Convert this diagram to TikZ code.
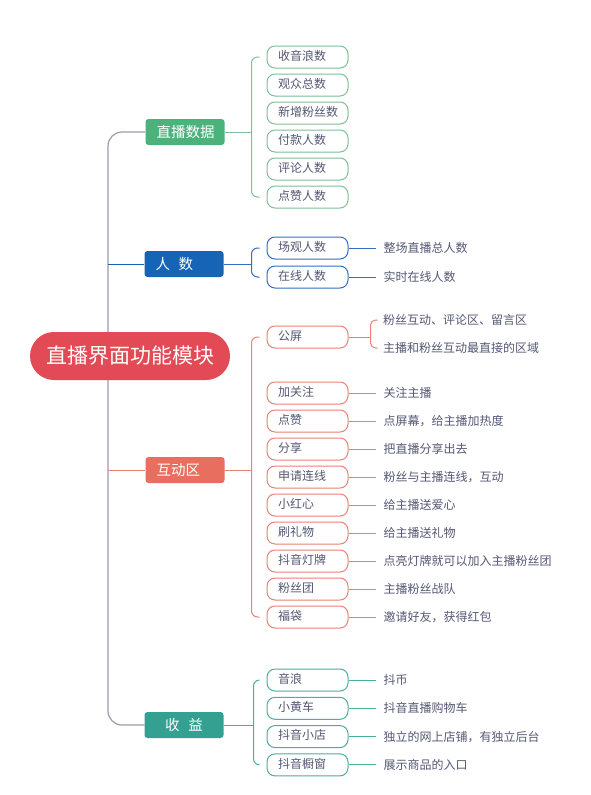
\documentclass[tikz,border=0pt]{standalone}
\usepackage{fontspec}
\setmainfont{Noto Sans CJK SC}
\usetikzlibrary{positioning,calc}
\pgfdeclarelayer{background}
\pgfsetlayers{background,main}
\definecolor{rootred}{RGB}{226,74,85}
\definecolor{dgreen}{RGB}{76,178,124}
\definecolor{lgreen}{RGB}{125,192,152}
\definecolor{dblue}{RGB}{22,100,182}
\definecolor{lblue}{RGB}{52,110,190}
\definecolor{dred}{RGB}{232,110,96}
\definecolor{lred}{RGB}{236,128,118}
\definecolor{dteal}{RGB}{52,160,145}
\definecolor{lteal}{RGB}{75,175,155}
\definecolor{trunkgray}{RGB}{155,155,172}
\definecolor{txtgray}{RGB}{84,88,115}

\begin{document}
\begin{tikzpicture}[x=1pt,y=1pt,node distance=5pt,
    rootbox/.style={fill=rootred,text=white,rounded corners=24pt,minimum width=200pt,minimum height=48pt,font=\fontsize{21}{24}\selectfont},
    branch/.style={fill=#1,text=white,rounded corners=3pt,minimum height=26pt,inner xsep=11pt,text width=57pt,align=left,font=\fontsize{14.5}{17}\selectfont},
    leaf/.style={draw=#1,line width=1pt,fill=white,rounded corners=8pt,minimum height=22pt,inner ysep=3pt,text height=9.5pt,text depth=3pt,inner xsep=11pt,text width=59pt,align=left,text=txtgray,font=\fontsize{12}{14}\selectfont},
    desc/.style={inner sep=0pt,anchor=west,text=txtgray,font=\fontsize{12}{14}\selectfont},
    link/.style={draw=#1,line width=1pt},
    trunk/.style={draw=trunkgray,line width=1.2pt}]
\useasboundingbox (0,0) rectangle (590,-795);
%
   \node[rootbox]        (R)  at (130,-356) {直播界面功能模块};
   \coordinate           (tk) at (108,-356);
   \node[branch=dgreen]  (DA) at (185,-132) {直播数据};
   \node[branch=dblue]   (DB) at (184,-264) {人\hspace{0.6em}数};
   \node[branch=dred]    (DC) at (185,-470) {互动区};
   \node[branch=dteal,align=center] (DE) at (184,-725) {收\hspace{0.6em}益};
%
   \node[leaf=lgreen]    (A1) at (307.5,-57) {收音浪数};
   \node[leaf=lgreen]    (A2) [below=of A1] {观众总数};
   \node[leaf=lgreen]    (A3) [below=of A2] {新增粉丝数};
   \node[leaf=lgreen]    (A4) [below=of A3] {付款人数};
   \node[leaf=lgreen]    (A5) [below=of A4] {评论人数};
   \node[leaf=lgreen]    (A6) [below=of A5] {点赞人数};
%
   \node[leaf=lblue]     (B1) at (307.5,-248) {场观人数};
   \node[leaf=lblue]     (B2) [below=6pt of B1] {在线人数};
   \node[desc]           (B1d) [right=35pt of B1] {整场直播总人数};
   \node[desc]           (B2d) [right=35pt of B2] {实时在线人数};
%
   \node[leaf=lred]      (C1) at (307.5,-337) {公屏};
   \node[desc]           (C1a) at (383,-320) {粉丝互动、评论区、留言区};
   \node[desc]           (C1b) at (383,-348) {主播和粉丝互动最直接的区域};
   \node[leaf=lred]      (C2) at (307.5,-393) {加关注};
   \node[leaf=lred]      (C3) [below=of C2] {点赞};
   \node[leaf=lred]      (C4) [below=of C3] {分享};
   \node[leaf=lred]      (C5) [below=of C4] {申请连线};
   \node[leaf=lred]      (C6) [below=of C5] {小红心};
   \node[leaf=lred]      (C7) [below=of C6] {刷礼物};
   \node[leaf=lred]      (C8) [below=of C7] {抖音灯牌};
   \node[leaf=lred]      (C9) [below=of C8] {粉丝团};
   \node[leaf=lred]      (C10) [below=of C9] {福袋};
   \node[desc]           (C2d) [right=35pt of C2] {关注主播};
   \node[desc]           (C3d) [right=35pt of C3] {点屏幕，给主播加热度};
   \node[desc]           (C4d) [right=35pt of C4] {把直播分享出去};
   \node[desc]           (C5d) [right=35pt of C5] {粉丝与主播连线，互动};
   \node[desc]           (C6d) [right=35pt of C6] {给主播送爱心};
   \node[desc]           (C7d) [right=35pt of C7] {给主播送礼物};
   \node[desc]           (C8d) [right=35pt of C8] {点亮灯牌就可以加入主播粉丝团};
   \node[desc]           (C9d) [right=35pt of C9] {主播粉丝战队};
   \node[desc]           (C10d) [right=35pt of C10] {邀请好友，获得红包};
%
   \node[leaf=lteal]     (E1) at (307.5,-680) {音浪};
   \node[leaf=lteal]     (E2) [below=5.3pt of E1] {小黄车};
   \node[leaf=lteal]     (E3) [below=5.3pt of E2] {抖音小店};
   \node[leaf=lteal]     (E4) [below=5.3pt of E3] {抖音橱窗};
   \node[desc]           (E1d) [right=35pt of E1] {抖币};
   \node[desc]           (E2d) [right=35pt of E2] {抖音直播购物车};
   \node[desc]           (E3d) [right=35pt of E3] {独立的网上店铺，有独立后台};
   \node[desc]           (E4d) [right=35pt of E4] {展示商品的入口};
%
   % trunk behind the root
   \begin{pgfonlayer}{background}
   \draw[trunk,rounded corners=14pt] (DA.west) -| (tk) |- (DE.west);
   \end{pgfonlayer}
   \draw[link=dblue] (tk |- DB.west) -- (DB.west);
   \draw[link=lred]  (tk |- DC.west) -- (DC.west);
%
   % brackets
   \coordinate (gA) at ([xshift=-15pt]A1.west);
   \draw[link=lgreen] (DA.east) -- (gA |- DA.east);
   \draw[link=lgreen,rounded corners=6pt] ([xshift=-7pt]A1.west) -| ([xshift=-15pt]A6.west) -- ([xshift=-7pt]A6.west);
   \coordinate (gB) at ([xshift=-15pt]B1.west);
   \draw[link=lblue] (DB.east) -- (gB |- DB.east);
   \draw[link=lblue,rounded corners=6pt] ([xshift=-7pt]B1.west) -| ([xshift=-15pt]B2.west) -- ([xshift=-7pt]B2.west);
   \coordinate (gC) at ([xshift=-15pt]C1.west);
   \draw[link=lred] (DC.east) -- (gC |- DC.east);
   \draw[link=lred,rounded corners=6pt] ([xshift=-7pt]C1.west) -| ([xshift=-15pt]C10.west) -- ([xshift=-7pt]C10.west);
   \coordinate (gE) at ([xshift=-13pt]E1.west);
   \draw[link=lteal] (DE.east) -- (gE |- DE.east);
   \draw[link=lteal,rounded corners=6pt] ([xshift=-7pt]E1.west) -| ([xshift=-13pt]E4.west) -- ([xshift=-7pt]E4.west);
%
   % 公屏 sub bracket
   \coordinate (cb) at ([xshift=22pt]C1.east);
   \coordinate (cb1) at (cb |- C1a.west);
   \coordinate (cb2) at (cb |- C1b.west);
   \draw[link=lred] (C1.east) -- (cb);
   \draw[link=lred,rounded corners=5pt] ([xshift=7pt]cb1) -| (cb2) -- ([xshift=7pt]cb2);
%
   % leaf to text
   \path[link=lblue,shorten >=8pt] (B1) edge (B1d.west) (B2) edge (B2d.west);
   \path[link=lred,shorten >=8pt] (C2.east) edge (C2d.west) (C3.east) edge (C3d.west)
        (C4.east) edge (C4d.west) (C5.east) edge (C5d.west) (C6.east) edge (C6d.west)
        (C7.east) edge (C7d.west) (C8.east) edge (C8d.west) (C9.east) edge (C9d.west)
        (C10.east) edge (C10d.west);
   \path[link=lteal,shorten >=8pt] (E1.east) edge (E1d.west) (E2.east) edge (E2d.west)
        (E3.east) edge (E3d.west) (E4.east) edge (E4d.west);
\end{tikzpicture}
\end{document}
